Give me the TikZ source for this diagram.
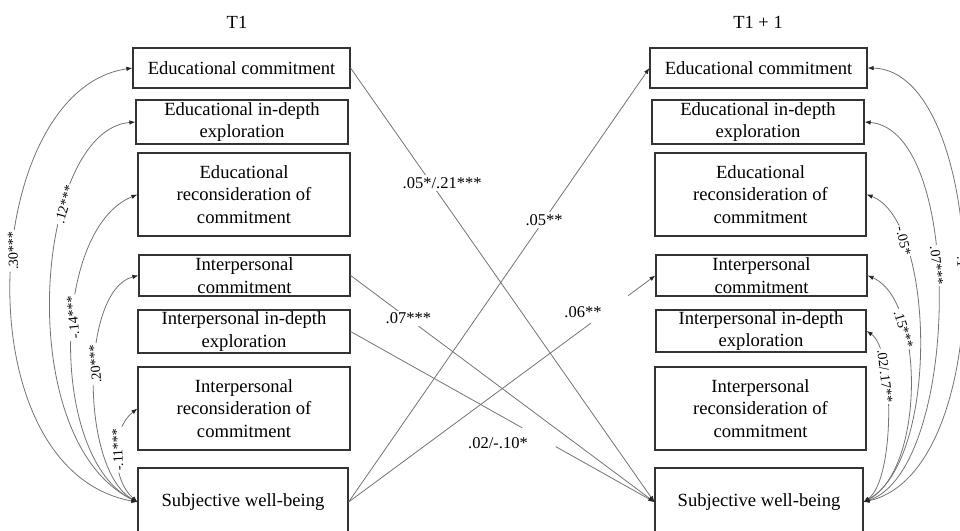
\documentclass[tikz,border=0pt]{standalone}
\usepackage{fontspec}
\setmainfont{Liberation Serif}
\usetikzlibrary{arrows.meta}
\begin{document}
\begin{tikzpicture}[x=1pt,y=-1pt,
  box/.style={draw=black!80, line width=1.2pt, align=center, inner sep=0pt,
    font=\fontsize{18.6}{22.5}\selectfont},
  ttl/.style={font=\fontsize{18.5}{22}\selectfont, inner sep=0pt},
  conn/.style={draw=black!55, line width=0.8pt},
  tipend/.style={-{Latex[length=6pt,width=4.5pt,color=black!85]}},
  arc/.style={conn, {Latex[length=6pt,width=4.5pt,color=black!85]}-{Latex[length=6pt,width=4.5pt,color=black!85]}},
  clab/.style={fill=white, inner sep=1.5pt, font=\fontsize{14}{16}\selectfont},
  mlab/.style={fill=white, inner sep=2pt, font=\fontsize{16.5}{18}\selectfont},
  gap/.style={fill=white, inner sep=0pt, minimum height=4pt, sloped}
]
\useasboundingbox (0,0) rectangle (960,530);
\clip (0,0) rectangle (960,530);

% titles
\node[ttl] (t1) at (237,22) {T1};
\node[ttl] (t2) at (758,22) {T1 + 1};

% left column (T1)
\node[box, minimum width=217pt, minimum height=40pt] (lec) at (241.5,68) {Educational commitment};
\node[box, minimum width=212pt, minimum height=44pt] (led) at (242,122) {Educational in-depth\\exploration};
\node[box, minimum width=212pt, minimum height=83pt] (lerc) at (244,194.5) {Educational\\reconsideration of\\commitment};
\node[box, minimum width=211pt, minimum height=41pt] (lic) at (244.5,275.5) {Interpersonal\\commitment};
\node[box, minimum width=212pt, minimum height=43pt] (lid) at (244,331.5) {Interpersonal in-depth\\exploration};
\node[box, minimum width=212pt, minimum height=83pt] (lirc) at (244,408.5) {Interpersonal\\reconsideration of\\commitment};
\node[box, minimum width=210pt, minimum height=68pt] (lswb) at (243,502) {Subjective well-being};

% right column (T1 + 1)
\node[box, minimum width=217pt, minimum height=40pt] (rec) at (758.5,68) {Educational commitment};
\node[box, minimum width=212pt, minimum height=44pt] (red) at (758,122) {Educational in-depth\\exploration};
\node[box, minimum width=211pt, minimum height=83pt] (rerc) at (760.5,194.5) {Educational\\reconsideration of\\commitment};
\node[box, minimum width=211pt, minimum height=41pt] (ric) at (761.5,275.5) {Interpersonal\\commitment};
\node[box, minimum width=210pt, minimum height=42pt] (rid) at (761,331) {Interpersonal in-depth\\exploration};
\node[box, minimum width=211pt, minimum height=83pt] (rirc) at (760.5,408.5) {Interpersonal\\reconsideration of\\commitment};
\node[box, minimum width=208pt, minimum height=68pt] (rswb) at (759,502) {Subjective well-being};

% cross-lagged paths
\draw[conn, tipend] (lec.east) -- node[mlab, pos=0.265, xshift=11pt] {.05*/.21***} (rswb.west);
\draw[conn, tipend] (lswb.east) -- node[mlab, pos=0.65] {.05**} (rec.west);
\draw[conn, tipend] (lic.east) -- node[mlab, pos=0.19] {.07***} (rswb.west);
\draw[conn, tipend] (lid.east) -- node[gap, pos=0.62, minimum width=38pt] {} (rswb.west);
\node[mlab, fill=none] (l4) at (498,443) {.02/-.10*};
\draw[conn, tipend] (lswb.east) -- node[gap, pos=0.85, minimum width=46pt] {} (ric.west);
\node[mlab, fill=none] (l5) at (583,312) {.06**};

% T1 correlations
\draw[arc] (lswb.west) .. controls (-40,470) and (-20,90) .. node[clab, pos=0.55, rotate=92] {.30***} (lec.west);
\draw[arc] (lswb.west) .. controls (10,440) and (35,130) .. node[clab, pos=0.68, rotate=74] {.12***} (led.west);
\draw[arc] (lswb.west) .. controls (50,460) and (50,230) .. node[clab, pos=0.57, rotate=95] {-.14***} (lerc.west);
\draw[arc] (lswb.west) .. controls (80,470) and (80,290) .. node[clab, pos=0.56, rotate=95] {.20***} (lic.west);
\draw[arc] (lswb.west) .. controls (112,480) and (110,430) .. node[clab, pos=0.55, rotate=93] {-.11***} (lirc.west);

% T1 + 1 correlations
\draw[arc] (rswb.east) .. controls (1003,470) and (988,70) .. (rec.east);
\node[clab, rotate=-90] (l6) at (962,262) {.1};
\draw[arc] (rswb.east) .. controls (960,470) and (965,130) .. node[clab, pos=0.57, rotate=-84] {.07***} (red.east);
\draw[arc] (rswb.east) .. controls (940,460) and (935,220) .. node[clab, pos=0.77, rotate=-77] {-.05*} (rerc.east);
\draw[arc] (rswb.east) .. controls (925,470) and (925,300) .. node[clab, pos=0.7, rotate=-73] {.15***} (ric.east);
\draw[arc] (rswb.east) .. controls (895,480) and (895,350) .. node[clab, pos=0.68, rotate=-83] {.02/.17**} (rid.east);
\end{tikzpicture}
\end{document}
